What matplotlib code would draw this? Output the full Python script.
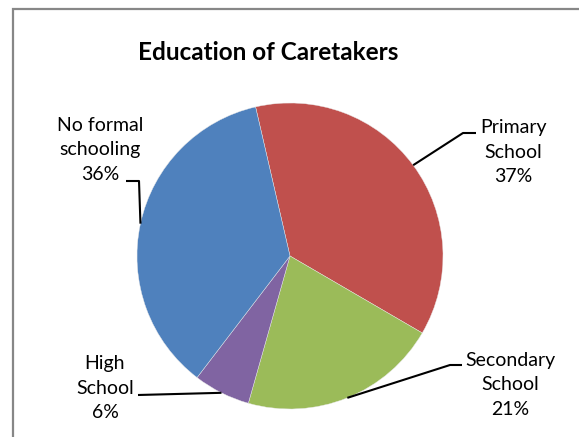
import numpy as np
import matplotlib
matplotlib.use("Agg")
import matplotlib.pyplot as plt
from matplotlib.patches import Rectangle

# Data
categories = ["Primary\nSchool", "Secondary\nSchool", "High\nSchool", "No formal\nschooling"]
shares = [37, 21, 6, 36]
colors = ["#C0504D", "#9BBB59", "#8064A2", "#4F81BD"]
title = "Education of Caretakers"

W, H = 579, 437
fig = plt.figure(figsize=(W / 100, H / 100), dpi=100)
ax = fig.add_axes([0, 0, 1, 1])

def Y(y):
    # top-down pixel row -> axes y
    return H - y

cx, cy, r = 290, 256, 153
start = 103

wedges, _ = ax.pie(shares, colors=colors, startangle=start, counterclock=False,
                   center=(cx, Y(cy)), radius=r, frame=True,
                   wedgeprops=dict(edgecolor="#e8e8e8", linewidth=0.3))
ax.set_xlim(0, W)
ax.set_ylim(0, H)
ax.set_aspect("auto")
ax.axis("off")

# chart frame
ax.add_patch(Rectangle((13, Y(450)), 600, 441, fill=False, edgecolor="#878787",
                       linewidth=1.6, clip_on=True))

font = "Lato"
ax.text(268, Y(53), title, ha="center", va="center", fontsize=17.5,
        fontweight="bold", family=font)

# label placements: text centre, elbow point, end point of leader
label_pos = [(513, 152), (510, 385), (105, 388), (100, 150)]
elbows = [[(463, 133), (476, 133)],
          [(450, 365), (462, 365)],
          [(138, 395)],
          [(139, 181), (126, 181)]]

for w, lab, share, (tx, ty), elb in zip(wedges, categories, shares, label_pos, elbows):
    mid = np.deg2rad((w.theta1 + w.theta2) / 2)
    px, py = cx + r * np.cos(mid), Y(cy) + r * np.sin(mid)
    xs = [px] + [e[0] for e in elb]
    ys = [py] + [Y(e[1]) for e in elb]
    ax.plot(xs, ys, color="black", linewidth=1.5, solid_capstyle="butt")
    ax.text(tx, Y(ty), f"{lab}\n{share}%", ha="center", va="center",
            fontsize=14, family=font, linespacing=1.55)

fig.savefig("out.png", dpi=100)
